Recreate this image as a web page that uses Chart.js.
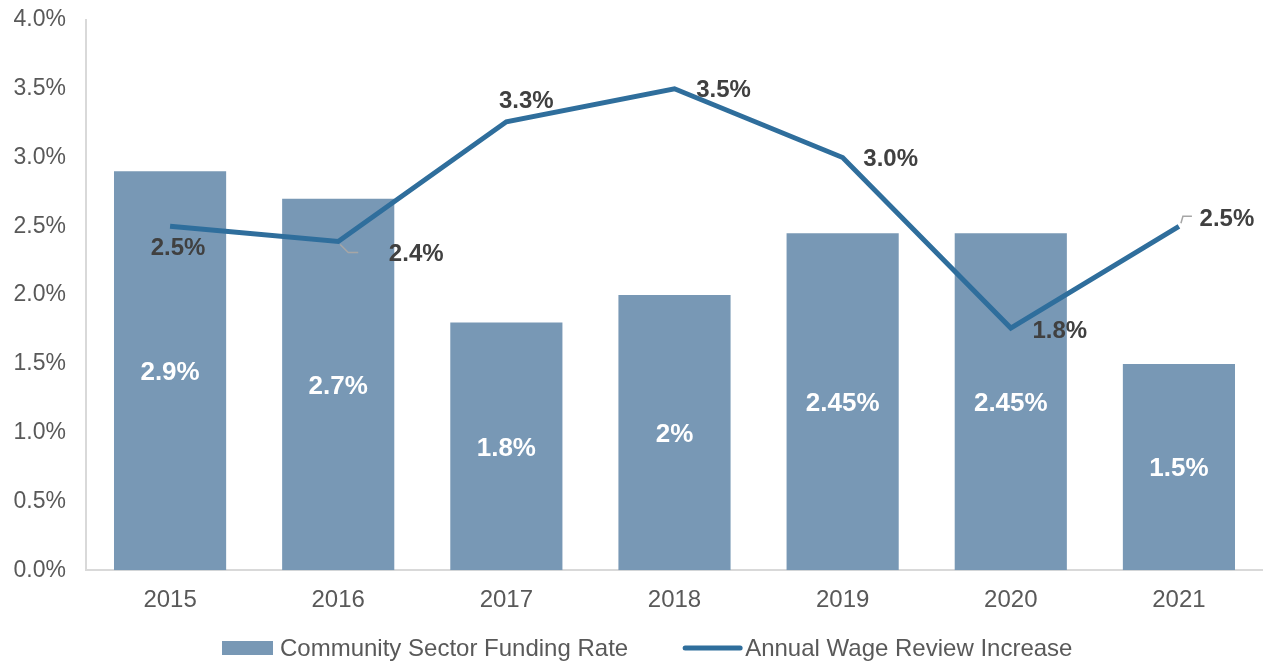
<!DOCTYPE html>
<html>
<head>
<meta charset="utf-8">
<script src="https://cdn.jsdelivr.net/npm/chart.js@4/dist/chart.umd.min.js"></script>
<style>
  html, body { margin: 0; padding: 0; background: #fff; overflow: hidden; }
  #wrap { width: 1263px; height: 663px; position: relative; }
</style>
</head>
<body>
<div id="wrap"><canvas id="chart" width="1263" height="663"></canvas></div>
<script>
// chart data
const years = ['2015', '2016', '2017', '2018', '2019', '2020', '2021'];
const fundingRate = [2.9, 2.7, 1.8, 2.0, 2.45, 2.45, 1.5];
const fundingLabels = ['2.9%', '2.7%', '1.8%', '2%', '2.45%', '2.45%', '1.5%'];
const wageIncrease = [2.5, 2.39, 3.26, 3.5, 3.0, 1.76, 2.5];
const wageLabels = ['2.5%', '2.4%', '3.3%', '3.5%', '3.0%', '1.8%', '2.5%'];
const seriesNames = ['Community Sector Funding Rate', 'Annual Wage Review Increase'];

const barColor = '#7898B5';
const lineColor = '#2F6E9C';
const textGray = '#595959';
const FONT = '"Liberation Sans", Arial, sans-serif';

// where each line label sits relative to its point (dx, dy), plus optional leader line
const lineLabelPos = [
    { dx: 8, dy: 21 },
    { dx: 78, dy: 12, leader: true },
    { dx: 20, dy: -21 },
    { dx: 49, dy: 1 },
    { dx: 48, dy: 1 },
    { dx: 49, dy: 2 },
    { dx: 48, dy: -8, leader: true }
];

const labelPlugin = {
    id: 'valueLabels',
    afterDatasetsDraw(chart) {
        const ctx = chart.ctx;
        ctx.save();
        ctx.textAlign = 'center';
        ctx.textBaseline = 'middle';

        // bar labels, white, centred in bar
        const barMeta = chart.getDatasetMeta(0);
        ctx.font = 'bold 26px ' + FONT;
        ctx.fillStyle = '#ffffff';
        barMeta.data.forEach((bar, i) => {
            const mid = (bar.y + bar.base) / 2;
            ctx.fillText(fundingLabels[i], bar.x, mid + 2);
        });

        // line labels
        const lineMeta = chart.getDatasetMeta(1);
        lineMeta.data.forEach((pt, i) => {
            const pos = lineLabelPos[i];
            const tx = pt.x + pos.dx;
            const ty = pt.y + pos.dy;
            if (pos.leader) {
                ctx.strokeStyle = '#a6a6a6';
                ctx.lineWidth = 1.5;
                ctx.beginPath();
                if (pos.dy > 0) {
                    ctx.moveTo(pt.x + 2, pt.y + 3);
                    ctx.lineTo(pt.x + 10, pt.y + 11);
                    ctx.lineTo(pt.x + 20, pt.y + 11);
                } else {
                    ctx.moveTo(pt.x + 2, pt.y - 3);
                    ctx.lineTo(pt.x + 4, pt.y - 10);
                    ctx.lineTo(pt.x + 13, pt.y - 10);
                }
                ctx.stroke();
            }
            ctx.font = 'bold 24px ' + FONT;
            ctx.fillStyle = '#404040';
            ctx.fillText(wageLabels[i], tx, ty + 1);
        });
        ctx.restore();
    }
};

// legend drawn by hand so the spacing matches the original
const legendPlugin = {
    id: 'bottomLegend',
    afterDraw(chart) {
        const ctx = chart.ctx;
        const y = chart.height - 15;
        ctx.save();
        ctx.font = '24px ' + FONT;
        ctx.textBaseline = 'middle';
        ctx.textAlign = 'left';
        ctx.fillStyle = textGray;

        let x = 222;
        ctx.fillStyle = barColor;
        ctx.fillRect(x, y - 7, 51, 14);
        x += 58;
        ctx.fillStyle = textGray;
        ctx.fillText(seriesNames[0], x, y + 1);
        x += ctx.measureText(seriesNames[0]).width + 55;

        ctx.strokeStyle = lineColor;
        ctx.lineWidth = 5;
        ctx.lineCap = 'round';
        ctx.beginPath();
        ctx.moveTo(x + 2, y);
        ctx.lineTo(x + 57, y);
        ctx.stroke();
        x += 62;
        ctx.fillText(seriesNames[1], x, y + 1);
        ctx.restore();
    }
};

new Chart(document.getElementById('chart'), {
    data: {
        labels: years,
        datasets: [
            {
                type: 'bar',
                label: seriesNames[0],
                data: fundingRate,
                backgroundColor: barColor,
                barPercentage: 0.667,
                categoryPercentage: 1,
                order: 2
            },
            {
                type: 'line',
                label: seriesNames[1],
                data: wageIncrease,
                borderColor: lineColor,
                borderWidth: 5,
                pointRadius: 0,
                tension: 0,
                fill: false,
                order: 1
            }
        ]
    },
    options: {
        responsive: false,
        animation: false,
        layout: { padding: { top: 0, right: 0, left: 10, bottom: 32 } },
        scales: {
            x: {
                grid: { display: false, drawTicks: false },
                border: { display: true, color: '#d9d9d9', width: 2 },
                ticks: { color: textGray, font: { family: FONT, size: 24 }, padding: 16, maxRotation: 0 },
                afterFit: s => { s.paddingLeft = 0; s.paddingRight = 0; }
            },
            y: {
                min: 0,
                max: 4,
                grid: { display: false, drawTicks: false },
                border: { display: true, color: '#d9d9d9', width: 2 },
                ticks: {
                    stepSize: 0.5,
                    color: textGray,
                    font: { family: FONT, size: 23 },
                    padding: 20,
                    callback: v => v.toFixed(1) + '%'
                },
                afterFit: s => { s.width = 76; s.paddingTop = 20; s.paddingBottom = 0; }
            }
        },
        plugins: {
            tooltip: { enabled: false },
            legend: { display: false }
        }
    },
    plugins: [labelPlugin, legendPlugin]
});
</script>
</body>
</html>
